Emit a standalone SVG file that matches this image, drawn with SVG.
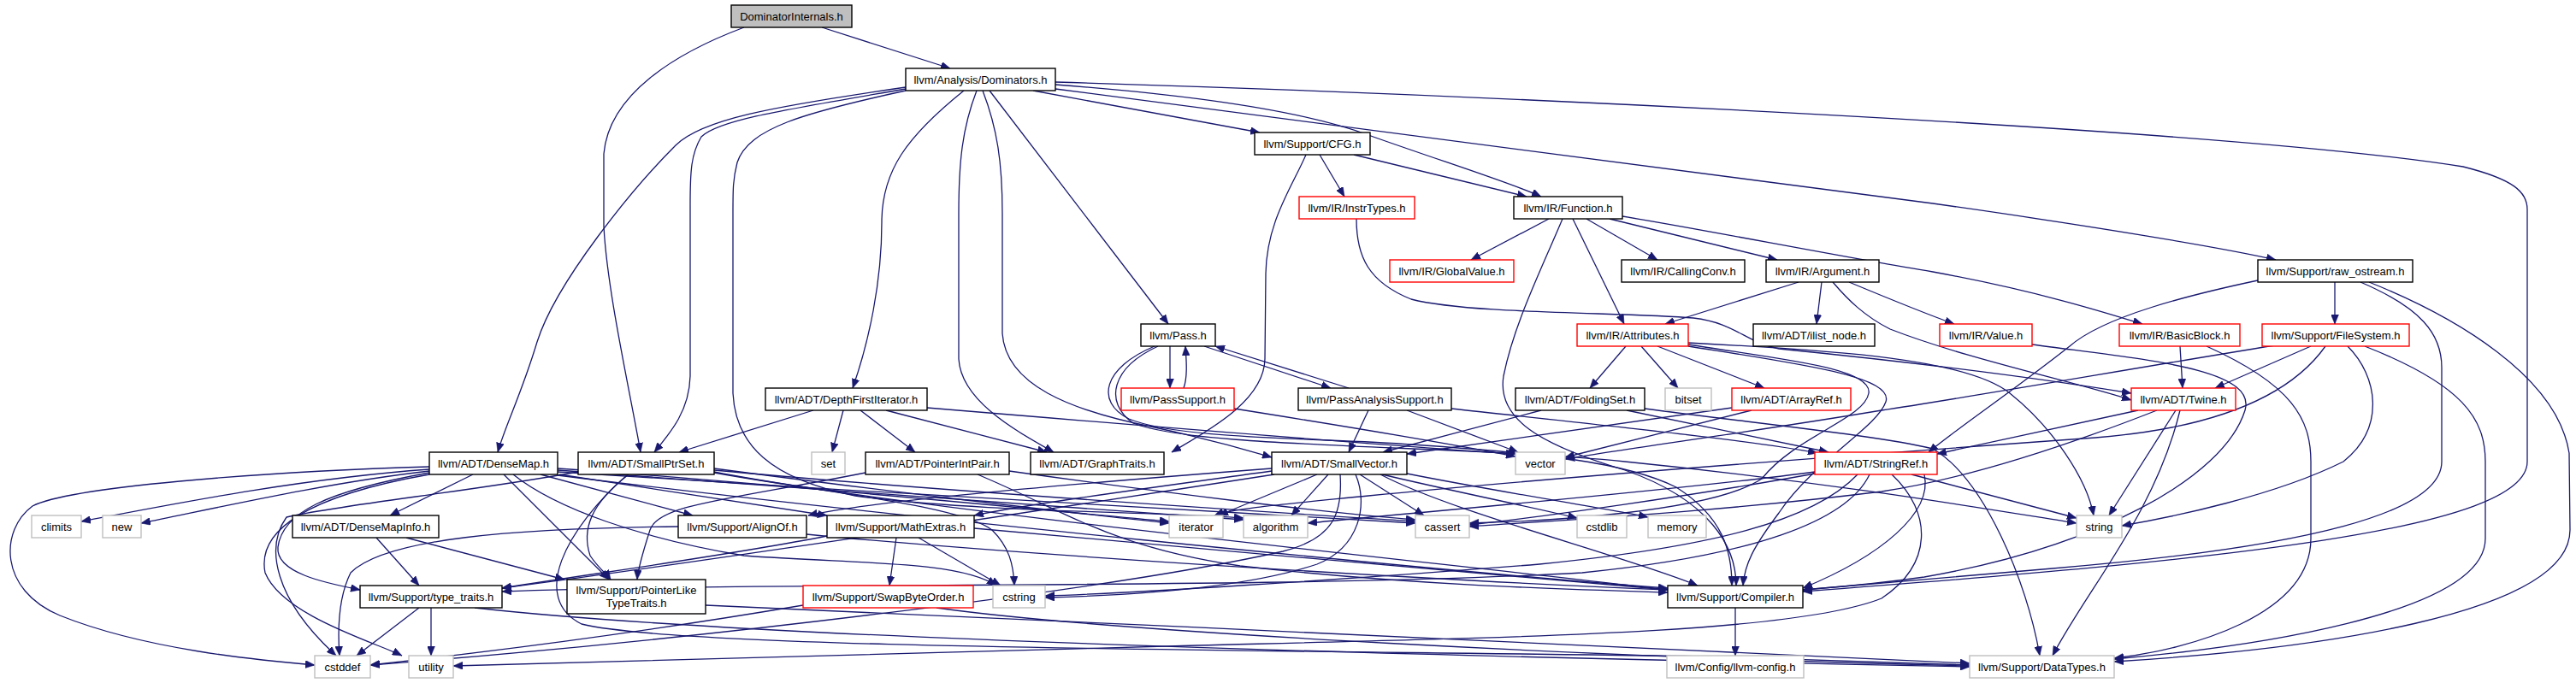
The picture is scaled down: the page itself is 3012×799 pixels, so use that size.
<svg xmlns="http://www.w3.org/2000/svg" width="3012" height="799" viewBox="0 0 3012 799">
<style>
.node rect{fill:#fff;stroke:#000;stroke-width:1.4}
.node.red rect{stroke:#ff0000}
.node.sys rect{stroke:#bfbfbf}
.node.root rect{fill:#bfbfbf}
.node text{font-family:"Liberation Sans",Arial,sans-serif;font-size:13px;text-anchor:middle;fill:#000}
#edges path{fill:none;stroke:#191970;stroke-width:1.3;marker-end:url(#ah)}
</style>
<defs>
<marker id="ah" markerUnits="userSpaceOnUse" markerWidth="12" markerHeight="9" refX="11" refY="4.5" orient="auto"><path d="M0,0 L11,4.5 L0,9 z" fill="#191970" stroke="#191970" stroke-width="0.5"/></marker>
</defs>
<rect width="3012" height="799" fill="#fff"/>
<g id="edges">
<path d="M961,32 L1111,80"/>
<path d="M870,32 C790,62 712,110 706,180 L706,265 C710,340 735,450 749,529"/>
<path d="M1059,102 C900,125 820,140 790,170 C740,220 650,330 628,400 C610,460 590,500 582,529"/>
<path d="M1059,104 C920,128 840,140 820,160 C808,180 807,200 807,240 L807,440 C806,480 785,505 765,529"/>
<path d="M1059,106 C940,132 875,150 862,190 C857,210 857,220 857,250 L857,460 C860,520 900,560 1000,580 C1150,600 1350,598 1454,606"/>
<path d="M1127,106 C1060,160 1031,200 1031,260 C1031,330 1016,400 997,454"/>
<path d="M1142,106 C1125,150 1121,190 1121,250 L1121,420 C1124,470 1190,505 1232,529"/>
<path d="M1149,106 C1166,150 1172,190 1172,250 L1172,390 C1176,450 1250,480 1350,500 C1420,515 1460,527 1487,535"/>
<path d="M1157,106 L1366,379"/>
<path d="M1208,106 L1473,155"/>
<path d="M1234,99 C1380,110 1520,128 1600,158 C1690,190 1770,215 1802,230"/>
<path d="M1234,104 C1420,128 1820,178 2260,238 C2450,265 2600,290 2661,304"/>
<path d="M1234,96 C1700,110 2600,150 2880,195 C2940,210 2955,225 2955,245 L2955,540 C2955,620 2600,655 2108,692"/>
<path d="M1527,181 C1510,220 1481,260 1480,320 L1479,420 C1478,470 1410,505 1370,529"/>
<path d="M1543,181 L1572,230"/>
<path d="M1583,181 L1785,230"/>
<path d="M1586,256 C1586,300 1600,330 1650,350 C1720,368 1900,365 1980,372 C2030,378 2040,400 2080,408 C2250,425 2400,445 2492,460"/>
<path d="M1811,256 L1720,304"/>
<path d="M1855,256 L1938,304"/>
<path d="M1882,256 L2078,304"/>
<path d="M1839,256 L1899,379"/>
<path d="M1827,256 C1800,320 1770,380 1758,440 C1750,490 1800,520 1900,550 C2000,585 2030,640 2030,685"/>
<path d="M1897,253 C2000,270 2150,300 2260,318 C2380,340 2460,365 2505,379"/>
<path d="M2103,330 L1947,379"/>
<path d="M2130,330 L2124,379"/>
<path d="M2162,330 C2210,350 2260,370 2285,379"/>
<path d="M2143,330 C2160,350 2180,370 2210,385 C2300,420 2420,445 2492,468"/>
<path d="M2640,328 C2560,345 2460,370 2420,405 C2350,460 2290,500 2255,529"/>
<path d="M2730,330 L2730,379"/>
<path d="M2760,330 C2830,360 2855,390 2855,430 L2855,540 C2855,600 2700,640 2400,665 C2250,678 2150,686 2108,690"/>
<path d="M2770,330 C2870,370 2990,440 3004,530 L3005,620 C3005,720 2700,760 2472,774"/>
<path d="M1368,405 L1368,454"/>
<path d="M1384,454 C1389,440 1387,420 1386,405"/>
<path d="M1408,405 L1556,454"/>
<path d="M1577,454 L1421,405"/>
<path d="M1354,405 C1300,430 1290,470 1325,495 C1400,525 1700,520 1900,540 C2150,565 2350,600 2428,612"/>
<path d="M1350,405 C1290,430 1280,470 1320,490 C1380,515 1550,512 1650,520 C1800,530 1900,540 1960,570 C2015,605 2025,645 2025,685"/>
<path d="M1443,478 C1550,495 1700,520 1772,534"/>
<path d="M1600,480 L1577,529"/>
<path d="M1645,480 L1775,529"/>
<path d="M1697,478 C1850,495 2050,515 2125,530"/>
<path d="M951,480 L794,529"/>
<path d="M986,480 L973,529"/>
<path d="M1006,480 L1070,529"/>
<path d="M1036,480 L1224,529"/>
<path d="M1084,477 C1300,495 1600,520 1772,531"/>
<path d="M1802,480 L1617,529"/>
<path d="M1902,480 L2138,529"/>
<path d="M1923,478 C2050,495 2200,510 2260,525 C2320,560 2370,680 2385,767"/>
<path d="M2025,477 L1645,531"/>
<path d="M2048,480 L1830,535"/>
<path d="M1901,405 L1859,454"/>
<path d="M1919,405 L1962,454"/>
<path d="M1938,405 L2063,454"/>
<path d="M1974,403 C2080,420 2190,430 2185,460 C2180,490 2100,510 2060,560 C2000,600 1800,610 1718,612"/>
<path d="M1974,405 C2100,425 2215,440 2205,470 C2195,500 2120,540 2080,600 C2050,640 2040,660 2038,685"/>
<path d="M1974,401 C2150,410 2300,420 2350,460 C2400,500 2440,560 2448,603"/>
<path d="M2376,403 C2500,420 2640,430 2625,480 C2600,560 2450,640 2250,675 C2180,685 2130,688 2108,690"/>
<path d="M2549,405 L2552,454"/>
<path d="M2580,405 C2680,450 2702,490 2702,540 L2702,630 C2702,720 2560,760 2472,770"/>
<path d="M2702,405 L2590,454"/>
<path d="M2660,404 C2500,430 2300,465 2200,480 C2050,505 1900,525 1830,537"/>
<path d="M2719,405 C2680,460 2600,500 2450,512 C2200,530 1800,560 1600,580 C1500,590 1440,595 1420,603"/>
<path d="M2745,405 C2780,440 2790,500 2740,540 C2660,580 2540,605 2481,615"/>
<path d="M2765,405 C2880,450 2906,490 2906,540 L2906,630 C2906,720 2620,758 2472,771"/>
<path d="M2500,480 L2265,531"/>
<path d="M2522,480 C2420,520 2300,560 2200,575 C2000,600 1800,610 1718,616"/>
<path d="M2544,480 L2466,603"/>
<path d="M2549,480 C2520,600 2440,690 2400,767"/>
<path d="M2122,552 C1950,575 1650,600 1529,612"/>
<path d="M2122,554 C1980,580 1800,605 1718,614"/>
<path d="M2235,555 L2428,606"/>
<path d="M2250,555 C2260,600 2200,650 2108,688"/>
<path d="M2172,555 C2120,610 2000,640 1800,660 C1550,680 1300,695 1222,697"/>
<path d="M2212,555 C2260,600 2260,660 2200,700 C2100,740 1800,745 1400,755 C1000,765 700,775 530,779"/>
<path d="M2186,555 C2160,610 2050,650 1850,670 C1500,690 900,680 587,692"/>
<path d="M735,555 C690,590 680,620 690,650 C700,665 710,672 714,678"/>
<path d="M676,552 C550,575 400,590 335,605 C310,640 320,700 393,767"/>
<path d="M734,555 C660,620 620,700 680,730 C800,760 1500,760 2000,768 C2150,772 2250,776 2303,778"/>
<path d="M835,552 C950,575 1120,590 1160,620 C1180,640 1185,660 1186,685"/>
<path d="M835,548 C1000,570 1250,600 1367,612"/>
<path d="M835,550 C1100,575 1500,600 1655,610"/>
<path d="M835,553 C1100,600 1700,660 1950,690"/>
<path d="M1012,553 C850,585 770,590 760,620 C752,645 746,665 745,678"/>
<path d="M1143,555 C1250,600 1300,640 1450,662 C1650,685 1850,690 1950,693"/>
<path d="M1180,551 C1350,575 1550,600 1655,608"/>
<path d="M1487,548 C1200,570 1000,590 945,603"/>
<path d="M1487,551 C1350,570 1200,590 1139,603"/>
<path d="M1490,555 C1200,600 800,660 587,688"/>
<path d="M1553,555 L1510,603"/>
<path d="M1540,555 L1425,603"/>
<path d="M1590,555 L1665,603"/>
<path d="M1616,555 C1700,575 1800,595 1844,606"/>
<path d="M1645,554 C1750,575 1880,595 1927,605"/>
<path d="M1614,555 C1700,600 1900,650 1985,685"/>
<path d="M1585,555 C1600,590 1590,640 1540,660 C1450,690 1300,697 1222,699"/>
<path d="M1567,555 C1570,600 1560,630 1500,645 C1300,690 800,750 433,778"/>
<path d="M553,555 L456,603"/>
<path d="M632,555 L810,603"/>
<path d="M654,555 L967,603"/>
<path d="M652,556 C1000,600 1700,670 1950,688"/>
<path d="M589,555 L712,678"/>
<path d="M502,553 C380,575 330,600 325,640 C322,670 380,682 421,690"/>
<path d="M652,550 C900,570 1300,595 1454,608"/>
<path d="M652,552 C1000,575 1450,600 1655,612"/>
<path d="M502,549 C350,560 200,590 95,610"/>
<path d="M502,546 C300,552 80,570 38,592 C0,620 -2,690 70,720 C170,760 300,772 368,778"/>
<path d="M600,555 C650,595 750,630 870,650 C1000,660 1120,655 1165,685"/>
<path d="M652,548 C900,565 1200,595 1367,610"/>
<path d="M502,551 C380,565 250,595 165,612"/>
<path d="M502,555 C360,580 300,620 310,670 C330,720 440,752 470,767"/>
<path d="M475,629 L660,678"/>
<path d="M440,629 L490,685"/>
<path d="M555,711 C900,750 1800,770 2303,780"/>
<path d="M490,711 L417,767"/>
<path d="M504,711 L504,767"/>
<path d="M825,708 C1300,730 2000,760 2303,776"/>
<path d="M943,625 C1200,650 1700,680 1950,690"/>
<path d="M793,616 C600,618 450,630 410,670 C395,700 395,740 397,767"/>
<path d="M1139,618 C1400,640 1700,670 1950,690"/>
<path d="M1048,629 L1040,685"/>
<path d="M967,627 C850,650 700,670 587,688"/>
<path d="M1074,629 L1170,685"/>
<path d="M1095,711 C1300,740 1900,770 2303,779"/>
<path d="M939,708 C750,740 550,765 433,778"/>
<path d="M2029,711 L2029,767"/>
</g>
<g id="n_di" class="node root"><rect x="855" y="6" width="141" height="26"/><text x="925.5" y="23.5">DominatorInternals.h</text></g>
<g id="n_dom" class="node"><rect x="1059" y="80" width="175" height="26"/><text x="1146.5" y="97.5">llvm/Analysis/Dominators.h</text></g>
<g id="n_cfg" class="node"><rect x="1467" y="155" width="135" height="26"/><text x="1534.5" y="172.5">llvm/Support/CFG.h</text></g>
<g id="n_instr" class="node red"><rect x="1519" y="230" width="135" height="26"/><text x="1586.5" y="247.5">llvm/IR/InstrTypes.h</text></g>
<g id="n_func" class="node"><rect x="1770" y="230" width="127" height="26"/><text x="1833.5" y="247.5">llvm/IR/Function.h</text></g>
<g id="n_gv" class="node red"><rect x="1625" y="304" width="145" height="26"/><text x="1697.5" y="321.5">llvm/IR/GlobalValue.h</text></g>
<g id="n_cc" class="node"><rect x="1896" y="304" width="144" height="26"/><text x="1968" y="321.5">llvm/IR/CallingConv.h</text></g>
<g id="n_arg" class="node"><rect x="2065" y="304" width="132" height="26"/><text x="2131" y="321.5">llvm/IR/Argument.h</text></g>
<g id="n_raw" class="node"><rect x="2640" y="304" width="181" height="26"/><text x="2730.5" y="321.5">llvm/Support/raw_ostream.h</text></g>
<g id="n_pass" class="node"><rect x="1334" y="379" width="87" height="26"/><text x="1377.5" y="396.5">llvm/Pass.h</text></g>
<g id="n_attr" class="node red"><rect x="1844" y="379" width="130" height="26"/><text x="1909" y="396.5">llvm/IR/Attributes.h</text></g>
<g id="n_ilist" class="node"><rect x="2050" y="379" width="142" height="26"/><text x="2121" y="396.5">llvm/ADT/ilist_node.h</text></g>
<g id="n_value" class="node red"><rect x="2268" y="379" width="108" height="26"/><text x="2322" y="396.5">llvm/IR/Value.h</text></g>
<g id="n_bb" class="node red"><rect x="2478" y="379" width="141" height="26"/><text x="2548.5" y="396.5">llvm/IR/BasicBlock.h</text></g>
<g id="n_fs" class="node red"><rect x="2645" y="379" width="172" height="26"/><text x="2731" y="396.5">llvm/Support/FileSystem.h</text></g>
<g id="n_dfi" class="node"><rect x="895" y="454" width="189" height="26"/><text x="989.5" y="471.5">llvm/ADT/DepthFirstIterator.h</text></g>
<g id="n_ps" class="node red"><rect x="1311" y="454" width="132" height="26"/><text x="1377" y="471.5">llvm/PassSupport.h</text></g>
<g id="n_pas" class="node"><rect x="1518" y="454" width="179" height="26"/><text x="1607.5" y="471.5">llvm/PassAnalysisSupport.h</text></g>
<g id="n_fold" class="node"><rect x="1772" y="454" width="151" height="26"/><text x="1847.5" y="471.5">llvm/ADT/FoldingSet.h</text></g>
<g id="n_bitset" class="node sys"><rect x="1947" y="454" width="54" height="26"/><text x="1974" y="471.5">bitset</text></g>
<g id="n_aref" class="node red"><rect x="2025" y="454" width="139" height="26"/><text x="2094.5" y="471.5">llvm/ADT/ArrayRef.h</text></g>
<g id="n_twine" class="node red"><rect x="2492" y="454" width="122" height="26"/><text x="2553" y="471.5">llvm/ADT/Twine.h</text></g>
<g id="n_dm" class="node"><rect x="502" y="529" width="150" height="26"/><text x="577" y="546.5">llvm/ADT/DenseMap.h</text></g>
<g id="n_spset" class="node"><rect x="676" y="529" width="159" height="26"/><text x="755.5" y="546.5">llvm/ADT/SmallPtrSet.h</text></g>
<g id="n_set" class="node sys"><rect x="949" y="529" width="39" height="26"/><text x="968.5" y="546.5">set</text></g>
<g id="n_pip" class="node"><rect x="1012" y="529" width="168" height="26"/><text x="1096" y="546.5">llvm/ADT/PointerIntPair.h</text></g>
<g id="n_gt" class="node"><rect x="1205" y="529" width="156" height="26"/><text x="1283" y="546.5">llvm/ADT/GraphTraits.h</text></g>
<g id="n_sv" class="node"><rect x="1487" y="529" width="158" height="26"/><text x="1566" y="546.5">llvm/ADT/SmallVector.h</text></g>
<g id="n_vector" class="node sys"><rect x="1772" y="529" width="58" height="26"/><text x="1801" y="546.5">vector</text></g>
<g id="n_sref" class="node red"><rect x="2122" y="529" width="143" height="26"/><text x="2193.5" y="546.5">llvm/ADT/StringRef.h</text></g>
<g id="n_climits" class="node sys"><rect x="37" y="603" width="58" height="26"/><text x="66" y="620.5">climits</text></g>
<g id="n_new" class="node sys"><rect x="120" y="603" width="45" height="26"/><text x="142.5" y="620.5">new</text></g>
<g id="n_dmi" class="node"><rect x="342" y="603" width="171" height="26"/><text x="427.5" y="620.5">llvm/ADT/DenseMapInfo.h</text></g>
<g id="n_align" class="node"><rect x="793" y="603" width="150" height="26"/><text x="868" y="620.5">llvm/Support/AlignOf.h</text></g>
<g id="n_math" class="node"><rect x="967" y="603" width="172" height="26"/><text x="1053" y="620.5">llvm/Support/MathExtras.h</text></g>
<g id="n_iter" class="node sys"><rect x="1367" y="603" width="63" height="26"/><text x="1398.5" y="620.5">iterator</text></g>
<g id="n_algo" class="node sys"><rect x="1454" y="603" width="75" height="26"/><text x="1491.5" y="620.5">algorithm</text></g>
<g id="n_cassert" class="node sys"><rect x="1655" y="603" width="63" height="26"/><text x="1686.5" y="620.5">cassert</text></g>
<g id="n_cstdlib" class="node sys"><rect x="1844" y="603" width="58" height="26"/><text x="1873" y="620.5">cstdlib</text></g>
<g id="n_memory" class="node sys"><rect x="1927" y="603" width="68" height="26"/><text x="1961" y="620.5">memory</text></g>
<g id="n_string" class="node sys"><rect x="2428" y="603" width="53" height="26"/><text x="2454.5" y="620.5">string</text></g>
<g id="n_tt" class="node"><rect x="421" y="685" width="166" height="26"/><text x="504" y="702.5">llvm/Support/type_traits.h</text></g>
<g id="n_pltt" class="node"><rect x="663" y="678" width="162" height="40"/><text x="744" y="694.5">llvm/Support/PointerLike</text><text x="744" y="709.5">TypeTraits.h</text></g>
<g id="n_swap" class="node red"><rect x="939" y="685" width="199" height="26"/><text x="1038.5" y="702.5">llvm/Support/SwapByteOrder.h</text></g>
<g id="n_cstring" class="node sys"><rect x="1161" y="685" width="61" height="26"/><text x="1191.5" y="702.5">cstring</text></g>
<g id="n_comp" class="node"><rect x="1950" y="685" width="158" height="26"/><text x="2029" y="702.5">llvm/Support/Compiler.h</text></g>
<g id="n_cstddef" class="node sys"><rect x="368" y="767" width="65" height="26"/><text x="400.5" y="784.5">cstddef</text></g>
<g id="n_utility" class="node sys"><rect x="478" y="767" width="52" height="26"/><text x="504" y="784.5">utility</text></g>
<g id="n_cfgh" class="node sys"><rect x="1949" y="767" width="160" height="26"/><text x="2029" y="784.5">llvm/Config/llvm-config.h</text></g>
<g id="n_dt" class="node sys"><rect x="2303" y="767" width="169" height="26"/><text x="2387.5" y="784.5">llvm/Support/DataTypes.h</text></g>
</svg>
